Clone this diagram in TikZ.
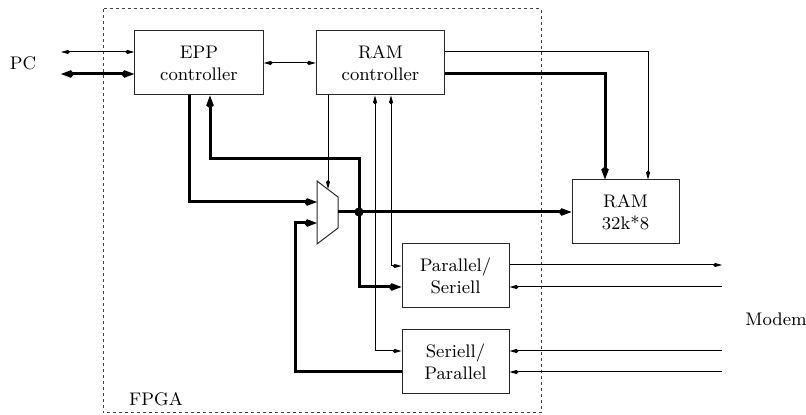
\documentclass[tikz,border=0pt]{standalone}
\usepackage{tikz}
\usetikzlibrary{arrows.meta, positioning}

\tikzset{
    tipS/.tip = {Kite[length=4.5pt, width=2pt, inset=1pt]},
    tipL/.tip = {Kite[length=6.5pt, width=3.8pt, inset=1.5pt]}
}

\begin{document}
\begin{tikzpicture}[
        x=0.5pt, y=-0.5pt,
        every node/.style = {font=\fontsize{9.1}{11}\selectfont},
        box/.style = {rectangle, draw=black!85, line width=0.5pt, minimum height=32pt, inner sep=0pt, align=center},
        wbox/.style = {box, minimum width=64.25pt},
        nbox/.style = {box, minimum width=53.5pt},
        thinbus/.style = {draw, line width=0.5pt},
        thickbus/.style = {draw, line width=1.5pt},
        fpgabox/.style = {draw=black!75, line width=0.5pt, dash pattern=on 1.5pt off 1.5pt}
    ]
    \useasboundingbox (0,0) rectangle (806,415);

    % FPGA border
    \draw[fpgabox] (103,9) rectangle (541,413);
    \node (fpga) at (156,399) {FPGA};
    \node (pc) at (23,63) {PC};
    \node (modem) at (776,319) {Modem};

    % blocks
    \node [wbox] (epp) at (199,63) {EPP\\controller};
    \node [wbox] (ramc) at (380.5,63) {RAM\\controller};
    \node [nbox] (ram) at (625.5,212) {RAM\\32k*8};
    \node [nbox] (ps) at (455.5,276) {Parallel/\\Seriell};
    \node [nbox] (sp) at (455.5,361.5) {Seriell/\\Parallel};

    % multiplexer
    \coordinate (m1) at (317,181);
    \coordinate (m2) at (338,197);
    \coordinate (m3) at (338,228);
    \coordinate (m4) at (317,244);
    \draw[draw=black!85, line width=0.5pt] (m1) -- (m2) -- (m3) -- (m4) -- cycle;
    \coordinate (muxin1) at (317,202);
    \coordinate (muxin2) at (317,223);
    \coordinate (muxout) at (338,212);
    \coordinate (muxsel) at (328,189);
    \coordinate (jn) at (359,212);
    \coordinate (fb) at (295,223);

    % PC side
    \coordinate (pcA) at (61,52);
    \coordinate (pcB) at (61,74);
    \draw[thinbus, tipS-tipS] (pcA) -- (pcA -| epp.west);
    \draw[thickbus, tipL-tipL] (pcB) -- (pcB -| epp.west);
    \draw[thinbus, tipS-tipS] (epp.east) -- (ramc.west);

    % data paths
    \draw[thickbus, -tipL] ([xshift=-5pt]epp.south) |- (muxin1);
    \draw[thickbus, -tipL] (jn) -- ++(0,-53) -| ([xshift=5.5pt]epp.south);
    \draw[thickbus, -tipL] (muxout) -- (ram.west);
    \fill (jn) circle (2.3pt);
    \draw[thickbus, -tipL] (jn) |- ([yshift=-5.5pt]ps.west);
    \draw[thickbus, -tipL] ([yshift=-5.25pt]sp.west) -| (fb) -- (muxin2);

    % control lines
    \draw[thinbus, -tipS] ([xshift=-26.25pt]ramc.south) -- (muxsel);
    \draw[thinbus, tipS-tipS] ([xshift=-2.75pt]ramc.south) |- ([yshift=5.25pt]sp.west);
    \draw[thinbus, tipS-tipS] ([xshift=5.25pt]ramc.south) |- ([yshift=5pt]ps.west);
    \draw[thinbus, -tipS] ([yshift=5.5pt]ramc.east) -| ([xshift=11.25pt]ram.north);
    \draw[thickbus, -tipL] ([yshift=-5.5pt]ramc.east) -| ([xshift=-10.25pt]ram.north);

    % modem side
    \coordinate (mo1) at (722,265);
    \coordinate (mo2) at (722,287);
    \coordinate (mo3) at (722,351);
    \coordinate (mo4) at (722,372);
    \draw[thinbus, -tipS] (mo1 -| ps.east) -- (mo1);
    \draw[thinbus, -tipS] (mo2) -- (mo2 -| ps.east);
    \draw[thinbus, -tipS] (mo3) -- (mo3 -| sp.east);
    \draw[thinbus, -tipS] (mo4) -- (mo4 -| sp.east);
\end{tikzpicture}
\end{document}
